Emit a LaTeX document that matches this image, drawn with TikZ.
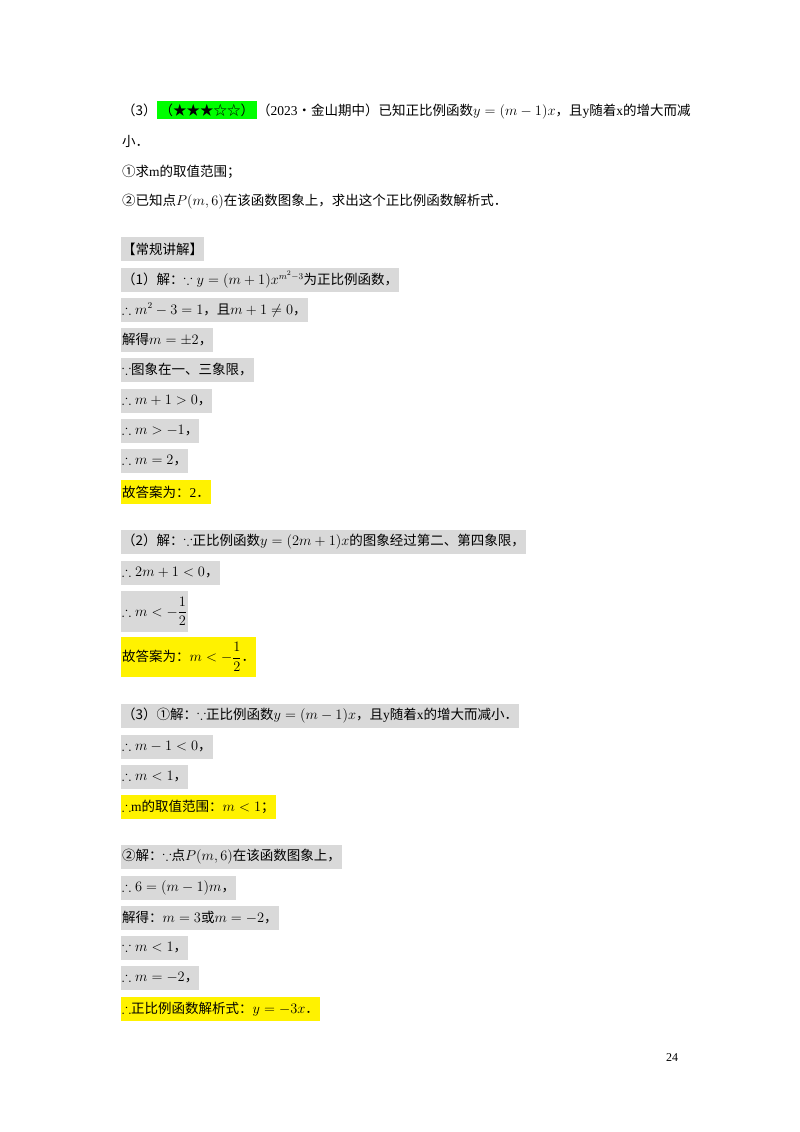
\documentclass[tikz,border=0pt]{standalone}
\usepackage{amsmath,amssymb}
\usepackage{fontspec}
\setmainfont{Noto Sans CJK SC}
\newfontfamily\serif{Liberation Serif}
\begin{document}
\begin{tikzpicture}[x=1pt,y=-1pt,
  t/.style={anchor=west,inner xsep=1pt,inner ysep=0pt,minimum height=24pt,font=\fontsize{13.5}{16}\selectfont},
  gb/.style={t,fill=black!15},
  yb/.style={t,fill=yellow}]
\useasboundingbox (0,0) rectangle (800,1132);
\node[t] (q1) at (121,110) {（3）\colorbox{green}{（★★★☆☆）}（{\serif 2023}•金山期中）已知正比例函数$y=(m-1)x$，且{\serif y}随着{\serif x}的增大而减};
\node[t] (q2) at (121,141) {小．};
\node[t] (q3) at (121,172) {①求{\serif m}的取值范围；};
\node[t] (q4) at (121,202) {②已知点$P(m,6)$在该函数图象上，求出这个正比例函数解析式．};
\node[gb] (h) at (121,249) {【常规讲解】};
\node[gb] (a1) at (121,280) {（1）解：$\because y=(m+1)x^{m^2-3}$为正比例函数，};
\node[gb] (a2) at (121,310) {$\therefore m^2-3=1$，且$m+1\neq0$，};
\node[gb] (a3) at (121,340) {解得$m=\pm2$，};
\node[gb] (a4) at (121,370) {$\because$图象在一、三象限，};
\node[gb] (a5) at (121,401) {$\therefore m+1>0$，};
\node[gb] (a6) at (121,431) {$\therefore m>-1$，};
\node[gb] (a7) at (121,461) {$\therefore m=2$，};
\node[yb] (a8) at (121,492) {故答案为：{\serif 2}．};
\node[gb] (b1) at (121,542) {（2）解：$\because$正比例函数$y=(2m+1)x$的图象经过第二、第四象限，};
\node[gb] (b2) at (121,573) {$\therefore 2m+1<0$，};
\node[gb,minimum height=41pt] (b3) at (121,611.5) {$\therefore m<-\dfrac12$};
\node[yb,minimum height=40pt] (b4) at (121,657) {故答案为：$m<-\dfrac12$．};
\node[gb] (c1) at (121,716) {（3）①解：$\because$正比例函数$y=(m-1)x$，且{\serif y}随着{\serif x}的增大而减小．};
\node[gb] (c2) at (121,747) {$\therefore m-1<0$，};
\node[gb] (c3) at (121,777) {$\therefore m<1$，};
\node[yb] (c4) at (121,807) {$\therefore${\serif m}的取值范围：$m<1$；};
\node[gb] (d1) at (121,857) {②解：$\because$点$P(m,6)$在该函数图象上，};
\node[gb] (d2) at (121,888) {$\therefore 6=(m-1)m$，};
\node[gb] (d3) at (121,918) {解得：$m=3$或$m=-2$，};
\node[gb] (d4) at (121,948) {$\because m<1$，};
\node[gb] (d5) at (121,978) {$\therefore m=-2$，};
\node[yb] (d6) at (121,1009) {$\therefore$正比例函数解析式：$y=-3x$．};
\node[font=\fontsize{12}{14}\selectfont\serif] (pg) at (672,1058) {24};
\end{tikzpicture}
\end{document}
